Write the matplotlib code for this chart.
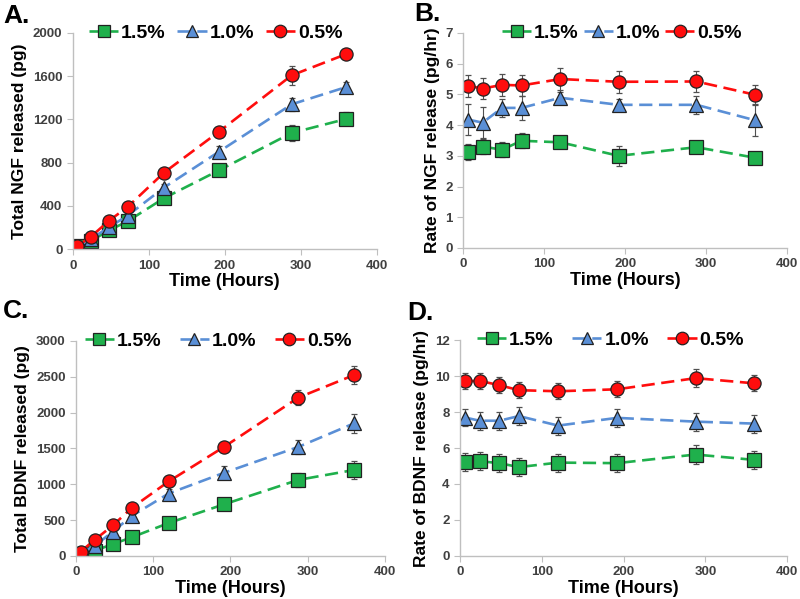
import matplotlib
matplotlib.use('Agg')
import matplotlib.pyplot as plt
from matplotlib.lines import Line2D

plt.rcParams['font.family'] = ['Liberation Sans', 'DejaVu Sans']

# sampling times (hours)
hours = [6, 24, 48, 72, 120, 192, 288, 360]
labels = ['1.5%', '1.0%', '0.5%']

# A. total NGF released (pg)
ngf_total = {
    '1.5%': [25, 78, 175, 258, 472, 728, 1075, 1205],
    '1.0%': [25, 95, 205, 310, 570, 900, 1340, 1500],
    '0.5%': [28, 117, 265, 390, 708, 1085, 1608, 1805],
}
ngf_total_err = {
    '1.5%': [10, 15, 20, 25, 35, 40, 70, 60],
    '1.0%': [10, 15, 20, 25, 35, 50, 60, 50],
    '0.5%': [10, 15, 20, 25, 30, 35, 90, 50],
}

# B. rate of NGF release (pg/hr)
ngf_rate = {
    '1.5%': [3.12, 3.30, 3.20, 3.49, 3.44, 3.00, 3.28, 2.94],
    '1.0%': [4.18, 4.08, 4.56, 4.56, 4.89, 4.66, 4.66, 4.16],
    '0.5%': [5.28, 5.19, 5.31, 5.29, 5.50, 5.41, 5.42, 4.99],
}
ngf_rate_err = {
    '1.5%': [0.25, 0.25, 0.25, 0.25, 0.15, 0.33, 0.20, 0.15],
    '1.0%': [0.50, 0.50, 0.30, 0.40, 0.20, 0.20, 0.30, 0.50],
    '0.5%': [0.35, 0.35, 0.35, 0.35, 0.35, 0.35, 0.35, 0.30],
}

# C. total BDNF released (pg)
bdnf_total = {
    '1.5%': [20, 72, 165, 258, 458, 720, 1060, 1198],
    '1.0%': [35, 140, 340, 555, 870, 1160, 1520, 1848],
    '0.5%': [58, 222, 427, 668, 1038, 1522, 2208, 2522],
}
bdnf_total_err = {
    '1.5%': [10, 20, 30, 30, 40, 50, 100, 120],
    '1.0%': [10, 25, 30, 40, 60, 90, 100, 130],
    '0.5%': [10, 25, 30, 40, 40, 60, 110, 120],
}

# D. rate of BDNF release (pg/hr)
bdnf_rate = {
    '1.5%': [5.24, 5.27, 5.16, 4.94, 5.19, 5.16, 5.64, 5.34],
    '1.0%': [7.70, 7.52, 7.52, 7.78, 7.25, 7.68, 7.47, 7.36],
    '0.5%': [9.72, 9.74, 9.50, 9.22, 9.16, 9.27, 9.89, 9.60],
}
bdnf_rate_err = {
    '1.5%': [0.50, 0.50, 0.50, 0.50, 0.50, 0.50, 0.55, 0.50],
    '1.0%': [0.50, 0.50, 0.50, 0.50, 0.50, 0.50, 0.50, 0.50],
    '0.5%': [0.45, 0.45, 0.45, 0.45, 0.45, 0.45, 0.50, 0.45],
}

colors = {'1.5%': '#1fb04c', '1.0%': '#5a8fd6', '0.5%': '#ff0d0d'}
markers = {'1.5%': 's', '1.0%': '^', '0.5%': 'o'}
dash = (0, (5, 2.5))

fig = plt.figure(figsize=(8, 5.99), dpi=100)

# letter, axes rect, data, errors, ylabel, ymax, ystep, legend x, column gap, letter pos (px)
panels = [
    ('A.', [0.091, 0.584, 0.380, 0.361], ngf_total, ngf_total_err,
     'Total NGF released (pg)', 2000, 400, 0.47, 0.6, (3, 23)),
    ('B.', [0.579, 0.586, 0.405, 0.359], ngf_rate, ngf_rate_err,
     'Rate of NGF release (pg/hr)', 7, 1, 0.49, 0.25, (414, 21)),
    ('C.', [0.095, 0.072, 0.386, 0.359], bdnf_total, bdnf_total_err,
     'Total BDNF released (pg)', 3000, 500, 0.46, 0.95, (3, 318)),
    ('D.', [0.575, 0.072, 0.409, 0.360], bdnf_rate, bdnf_rate_err,
     'Rate of BDNF release (pg/hr)', 12, 2, 0.46, 0.95, (407, 320)),
]

for letter, rect, data, err, ylabel, ymax, ystep, legx, colgap, lpos in panels:
    ax = fig.add_axes(rect)
    for lab in labels:
        ax.errorbar(hours, data[lab], yerr=err[lab], color=colors[lab],
                    ecolor='#505050', elinewidth=0.8, capsize=2.5, capthick=0.8,
                    linestyle=dash, linewidth=1.9,
                    marker=markers[lab], markersize=9.5,
                    markerfacecolor=colors[lab], markeredgecolor='#222222',
                    markeredgewidth=0.9)
    ax.set_xlim(0, 400)
    ax.set_ylim(0, ymax)
    ax.set_xticks(range(0, 401, 100))
    ax.set_yticks(range(0, ymax + 1, ystep))
    for s in ['top', 'right']:
        ax.spines[s].set_visible(False)
    for s in ['left', 'bottom']:
        ax.spines[s].set_color('#bfbfbf')
        ax.spines[s].set_linewidth(1.0)
    ax.tick_params(colors='#bfbfbf', labelcolor='#404040', length=4,
                   labelsize=9.5, direction='out')
    for t in ax.get_xticklabels() + ax.get_yticklabels():
        t.set_fontweight('bold')
    ax.set_xlabel('Time (Hours)', fontsize=13, fontweight='bold', labelpad=1)
    ax.set_ylabel(ylabel, fontsize=12.5, fontweight='bold', labelpad=4)

    handles = [Line2D([], [], color=colors[lab], linestyle=dash, linewidth=1.9,
                      marker=markers[lab], markersize=9,
                      markerfacecolor=colors[lab], markeredgecolor='#222222',
                      markeredgewidth=0.9) for lab in labels]
    ax.legend(handles, labels, loc='center', bbox_to_anchor=(legx, 1.0),
              ncol=3, frameon=False, prop={'weight': 'bold', 'size': 14},
              handlelength=1.5, handletextpad=0.15, columnspacing=colgap)
    fig.text(lpos[0] / 800, 1 - lpos[1] / 599, letter,
             fontsize=19, fontweight='bold', va='baseline', ha='left')

fig.savefig('out.png', dpi=100)
